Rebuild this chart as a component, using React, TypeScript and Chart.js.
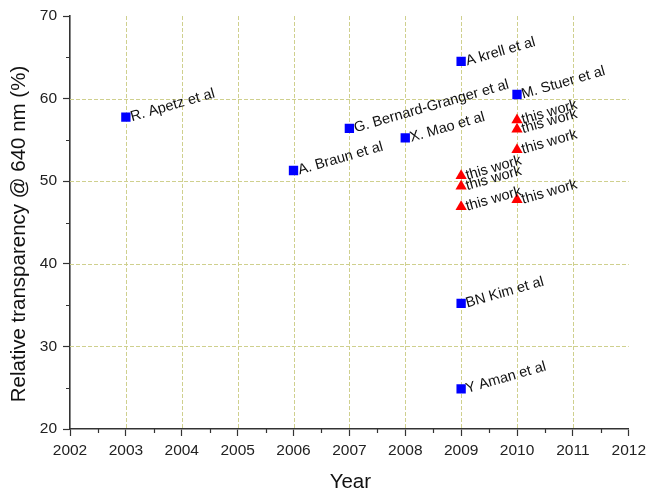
import React, { useEffect, useRef } from "react";
import { Chart, registerables } from "chart.js";

Chart.register(...registerables);

// Published results (blue squares)
const refYears = [2003, 2006, 2007, 2008, 2009, 2010, 2009, 2009];
const refValues = [57.75, 51.3, 56.4, 55.25, 64.5, 60.5, 35.2, 24.85];
const refLabels = [
  "R. Apetz et al",
  "A. Braun et al",
  "G. Bernard-Granger et al",
  "X. Mao et al",
  "A krell et al",
  "M. Stuer et al",
  "BN Kim et al",
  "Y Aman et al",
];

// Own samples (red triangles)
const workYears = [2009, 2009, 2009, 2010, 2010, 2010, 2010];
const workValues = [50.65, 49.4, 46.9, 57.4, 56.3, 53.8, 47.75];
const workLabel = "this work";

// Axis ranges, grid positions and titles
const xMin = 2002;
const xMax = 2012;
const yMin = 20;
const yMax = 70;
const xGridYears = [2003, 2004, 2005, 2006, 2007, 2008, 2009, 2010, 2011];
const yGridValues = [30, 40, 50, 60];
const xTitle = "Year";
const yTitle = "Relative transparency @ 640 nm (%)";

const FONT = '"Liberation Sans", Arial, Helvetica, sans-serif';
const AXIS_COLOR = "#333";
const GRID_COLOR = "#cfd08e";

// Dashed grid drawn on crisp pixel rows/columns
const gridPlugin = {
  id: "dashedGrid",
  beforeDatasetsDraw(chart: any) {
    const ctx = chart.ctx;
    const xs = chart.scales.x;
    const ys = chart.scales.y;
    const area = chart.chartArea;
    ctx.save();
    ctx.strokeStyle = GRID_COLOR;
    ctx.lineWidth = 1;
    ctx.setLineDash([4, 2]);
    ctx.beginPath();
    xGridYears.forEach((v) => {
      const px = Math.round(xs.getPixelForValue(v)) + 0.5;
      ctx.moveTo(px, area.top);
      ctx.lineTo(px, area.bottom);
    });
    yGridValues.forEach((v) => {
      const py = Math.round(ys.getPixelForValue(v)) + 0.5;
      ctx.moveTo(area.left, py);
      ctx.lineTo(area.right, py);
    });
    ctx.stroke();
    ctx.restore();
  },
};

const pointLabelsPlugin = {
  id: "pointLabels",
  afterDatasetsDraw(chart: any) {
    const ctx = chart.ctx;
    ctx.save();
    ctx.font = `14.5px ${FONT}`;
    ctx.fillStyle = "#111";
    ctx.textAlign = "left";
    ctx.textBaseline = "alphabetic";
    chart.data.datasets.forEach((ds: any, di: number) => {
      const meta = chart.getDatasetMeta(di);
      meta.data.forEach((el: any, i: number) => {
        const text = ds.pointLabels[i];
        ctx.save();
        ctx.translate(el.x + 6, el.y + 4);
        ctx.rotate((-16 * Math.PI) / 180);
        ctx.fillText(text, 0, 0);
        ctx.restore();
      });
    });
    ctx.restore();
  },
};

const minorTicksAndTitles = {
  id: "minorTicksAndTitles",
  afterDraw(chart: any) {
    const ctx = chart.ctx;
    const xs = chart.scales.x;
    const ys = chart.scales.y;
    const area = chart.chartArea;
    ctx.save();
    ctx.strokeStyle = AXIS_COLOR;
    ctx.lineWidth = 1.2;
    ctx.beginPath();
    for (let v = xMin + 0.5; v < xMax; v += 1) {
      const px = Math.round(xs.getPixelForValue(v)) + 0.5;
      ctx.moveTo(px, area.bottom);
      ctx.lineTo(px, area.bottom + 4);
    }
    for (let v = yMin + 5; v < yMax; v += 10) {
      const py = Math.round(ys.getPixelForValue(v)) + 0.5;
      ctx.moveTo(area.left, py);
      ctx.lineTo(area.left - 4, py);
    }
    ctx.stroke();

    // axis titles
    ctx.fillStyle = "#111";
    ctx.font = `20.5px ${FONT}`;
    ctx.textAlign = "center";
    ctx.textBaseline = "middle";
    ctx.fillText(xTitle, (area.left + area.right) / 2 + 1, 482);
    ctx.save();
    ctx.translate(19, 234);
    ctx.rotate(-Math.PI / 2);
    ctx.fillText(yTitle, 0, 0);
    ctx.restore();
    ctx.restore();
  },
};

export default function App() {
  const canvasRef = useRef<HTMLCanvasElement | null>(null);

  useEffect(() => {
    if (!canvasRef.current) return;
    const chart = new Chart(canvasRef.current, {
      type: "scatter",
      data: {
        datasets: [
          {
            label: "literature",
            data: refYears.map((x, i) => ({ x, y: refValues[i] })),
            pointStyle: "rect",
            pointRadius: 6.6,
            pointHoverRadius: 6.6,
            backgroundColor: "#0000ff",
            borderColor: "#0000ff",
            borderWidth: 0,
            pointLabels: refLabels,
          } as any,
          {
            label: workLabel,
            data: workYears.map((x, i) => ({ x, y: workValues[i] })),
            pointStyle: "triangle",
            pointRadius: 6.5,
            pointHoverRadius: 6.5,
            backgroundColor: "#ff0000",
            borderColor: "#ff0000",
            borderWidth: 0,
            pointLabels: workYears.map(() => workLabel),
          } as any,
        ],
      },
      options: {
        animation: false,
        responsive: true,
        maintainAspectRatio: false,
        layout: { padding: { top: 16, right: 19, left: 0, bottom: 0 } },
        plugins: {
          legend: { display: false },
          tooltip: { enabled: false },
        },
        scales: {
          x: {
            type: "linear",
            min: xMin,
            max: xMax,
            afterFit(scale: any) {
              scale.height = 65;
            },
            ticks: {
              stepSize: 1,
              padding: 5,
              color: "#222",
              font: { family: FONT, size: 15.5 },
              callback: (v: any) => String(v),
            },
            grid: {
              drawOnChartArea: false,
              tickColor: AXIS_COLOR,
              tickLength: 7,
              tickWidth: 1.2,
            } as any,
            border: {
              display: true,
              color: AXIS_COLOR,
              width: 1.6,
            } as any,
          },
          y: {
            type: "linear",
            min: yMin,
            max: yMax,
            afterFit(scale: any) {
              scale.width = 70;
            },
            ticks: {
              stepSize: 10,
              padding: 6,
              color: "#222",
              font: { family: FONT, size: 15.5 },
            },
            grid: {
              drawOnChartArea: false,
              tickColor: AXIS_COLOR,
              tickLength: 7,
              tickWidth: 1.2,
            } as any,
            border: {
              display: true,
              color: AXIS_COLOR,
              width: 1.6,
            } as any,
          },
        },
      },
      plugins: [gridPlugin, pointLabelsPlugin, minorTicksAndTitles],
    });
    return () => chart.destroy();
  }, []);

  return (
    <div
      style={{
        position: "fixed",
        left: 0,
        top: 0,
        width: 651,
        height: 494,
        background: "#fff",
      }}
    >
      <canvas ref={canvasRef} />
    </div>
  );
}
